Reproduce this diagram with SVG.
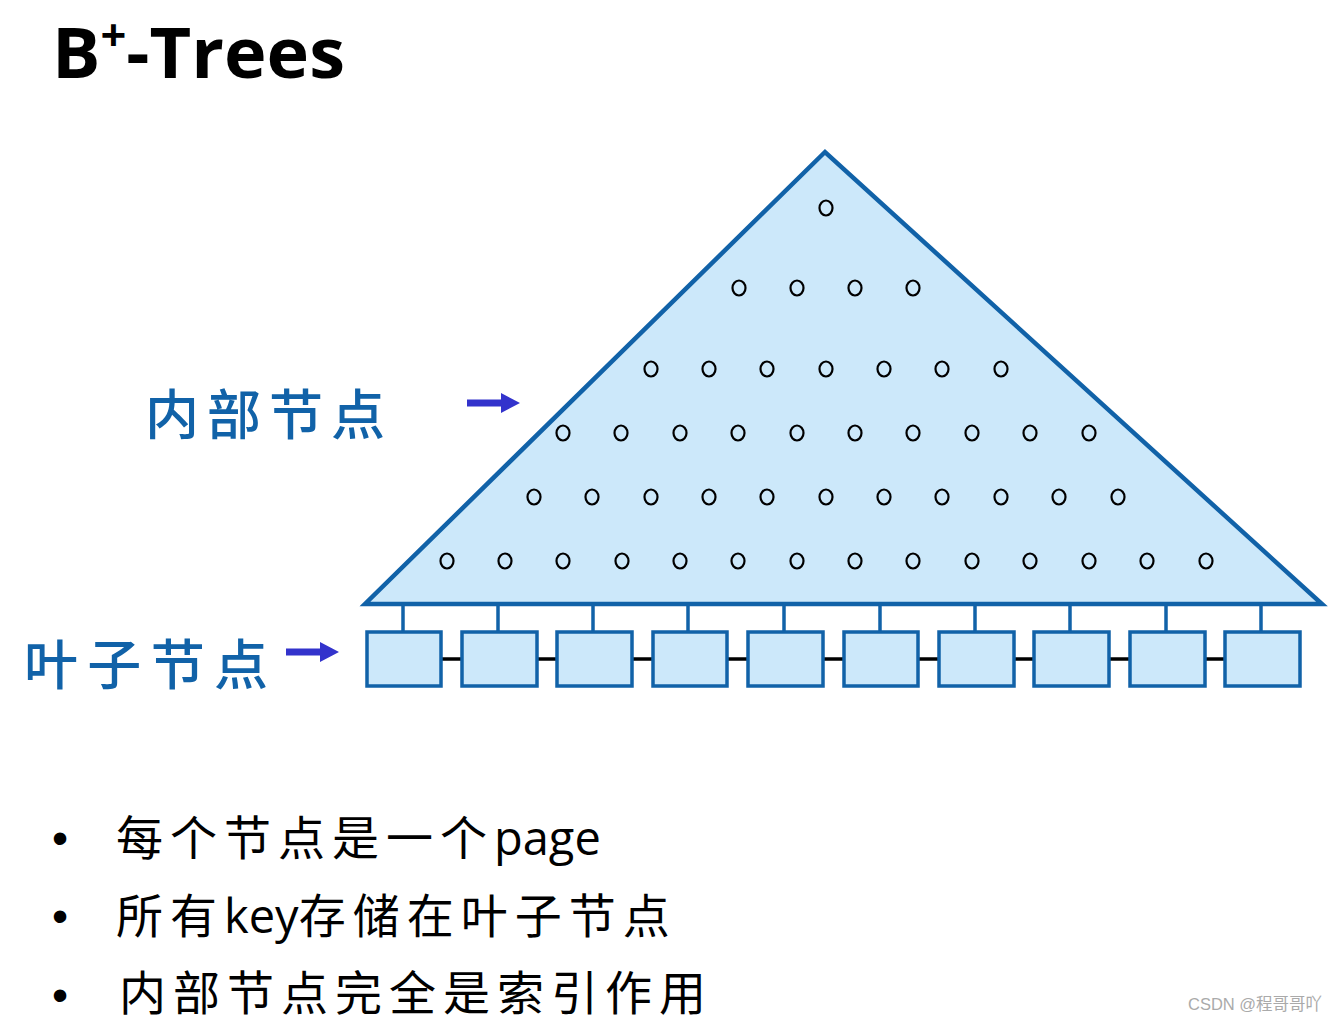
<svg xmlns="http://www.w3.org/2000/svg" width="1340" height="1023" viewBox="0 0 1340 1023">
<defs>
<style>
.cjk{font-family:"Noto Sans CJK SC","Noto Sans",sans-serif;}
.lat{font-family:"Open Sans","Liberation Sans",sans-serif;letter-spacing:0;}
.lbl{fill:#1162a8;font-size:54px;font-weight:500;}
.bul{fill:#000;font-size:47px;letter-spacing:7px;}
.dot{font-family:"Liberation Sans",sans-serif;font-size:46px;fill:#000;}
.k{fill:none;stroke:#000;stroke-width:2.2;}
.leaf{fill:#cce8fa;stroke:#1162a8;stroke-width:3.5;}
.up{stroke:#1162a8;stroke-width:3.5;}
.link{stroke:#000;stroke-width:3.5;}
.arr{fill:#3333cc;}
</style>
</defs>
<rect width="1340" height="1023" fill="#fff"/>
<text x="52" y="78" font-family="'Open Sans','Liberation Sans',sans-serif" font-weight="bold" font-size="70" textLength="293" lengthAdjust="spacingAndGlyphs">B<tspan dy="-27" font-size="44">+</tspan><tspan dy="27">-Trees</tspan></text>

<g id="tree">
<polygon points="825,152 365,604 1322,604" fill="#cce8fa" stroke="#1162a8" stroke-width="4.5" stroke-linejoin="miter"/>
<g class="k">
<ellipse cx="826" cy="208" rx="6.5" ry="7.5"/>
<ellipse cx="739" cy="288" rx="6.5" ry="7.5"/><ellipse cx="797" cy="288" rx="6.5" ry="7.5"/><ellipse cx="855" cy="288" rx="6.5" ry="7.5"/><ellipse cx="913" cy="288" rx="6.5" ry="7.5"/>
<ellipse cx="651" cy="369" rx="6.5" ry="7.5"/><ellipse cx="709" cy="369" rx="6.5" ry="7.5"/><ellipse cx="767" cy="369" rx="6.5" ry="7.5"/><ellipse cx="826" cy="369" rx="6.5" ry="7.5"/><ellipse cx="884" cy="369" rx="6.5" ry="7.5"/><ellipse cx="942" cy="369" rx="6.5" ry="7.5"/><ellipse cx="1001" cy="369" rx="6.5" ry="7.5"/>
<ellipse cx="563" cy="433" rx="6.5" ry="7.5"/><ellipse cx="621" cy="433" rx="6.5" ry="7.5"/><ellipse cx="680" cy="433" rx="6.5" ry="7.5"/><ellipse cx="738" cy="433" rx="6.5" ry="7.5"/><ellipse cx="797" cy="433" rx="6.5" ry="7.5"/><ellipse cx="855" cy="433" rx="6.5" ry="7.5"/><ellipse cx="913" cy="433" rx="6.5" ry="7.5"/><ellipse cx="972" cy="433" rx="6.5" ry="7.5"/><ellipse cx="1030" cy="433" rx="6.5" ry="7.5"/><ellipse cx="1089" cy="433" rx="6.5" ry="7.5"/>
<ellipse cx="534" cy="497" rx="6.5" ry="7.5"/><ellipse cx="592" cy="497" rx="6.5" ry="7.5"/><ellipse cx="651" cy="497" rx="6.5" ry="7.5"/><ellipse cx="709" cy="497" rx="6.5" ry="7.5"/><ellipse cx="767" cy="497" rx="6.5" ry="7.5"/><ellipse cx="826" cy="497" rx="6.5" ry="7.5"/><ellipse cx="884" cy="497" rx="6.5" ry="7.5"/><ellipse cx="942" cy="497" rx="6.5" ry="7.5"/><ellipse cx="1001" cy="497" rx="6.5" ry="7.5"/><ellipse cx="1059" cy="497" rx="6.5" ry="7.5"/><ellipse cx="1118" cy="497" rx="6.5" ry="7.5"/>
<ellipse cx="447" cy="561" rx="6.5" ry="7.5"/><ellipse cx="505" cy="561" rx="6.5" ry="7.5"/><ellipse cx="563" cy="561" rx="6.5" ry="7.5"/><ellipse cx="622" cy="561" rx="6.5" ry="7.5"/><ellipse cx="680" cy="561" rx="6.5" ry="7.5"/><ellipse cx="738" cy="561" rx="6.5" ry="7.5"/><ellipse cx="797" cy="561" rx="6.5" ry="7.5"/><ellipse cx="855" cy="561" rx="6.5" ry="7.5"/><ellipse cx="913" cy="561" rx="6.5" ry="7.5"/><ellipse cx="972" cy="561" rx="6.5" ry="7.5"/><ellipse cx="1030" cy="561" rx="6.5" ry="7.5"/><ellipse cx="1089" cy="561" rx="6.5" ry="7.5"/><ellipse cx="1147" cy="561" rx="6.5" ry="7.5"/><ellipse cx="1206" cy="561" rx="6.5" ry="7.5"/>
</g>
</g>

<g id="connectors">
<line class="up" x1="403" y1="604" x2="403" y2="632"/>
<line class="up" x1="498" y1="604" x2="498" y2="632"/>
<line class="up" x1="593" y1="604" x2="593" y2="632"/>
<line class="up" x1="688" y1="604" x2="688" y2="632"/>
<line class="up" x1="784" y1="604" x2="784" y2="632"/>
<line class="up" x1="880" y1="604" x2="880" y2="632"/>
<line class="up" x1="975" y1="604" x2="975" y2="632"/>
<line class="up" x1="1070" y1="604" x2="1070" y2="632"/>
<line class="up" x1="1166" y1="604" x2="1166" y2="632"/>
<line class="up" x1="1261" y1="604" x2="1261" y2="632"/>
<line class="link" x1="441" y1="659" x2="462" y2="659"/>
<line class="link" x1="537" y1="659" x2="557" y2="659"/>
<line class="link" x1="632" y1="659" x2="653" y2="659"/>
<line class="link" x1="727" y1="659" x2="748" y2="659"/>
<line class="link" x1="823" y1="659" x2="844" y2="659"/>
<line class="link" x1="918" y1="659" x2="939" y2="659"/>
<line class="link" x1="1014" y1="659" x2="1034" y2="659"/>
<line class="link" x1="1109" y1="659" x2="1130" y2="659"/>
<line class="link" x1="1205" y1="659" x2="1225" y2="659"/>
<path class="arr" d="M467,399.5 H501 V393 L520,403 L501,413 V406.5 H467 Z"/>
<path class="arr" d="M286,648.5 H320 V642 L339,652 L320,662 V655.5 H286 Z"/>
</g>

<g id="leaves">
<rect class="leaf" x="367" y="632" width="74" height="54"/>
<rect class="leaf" x="462" y="632" width="75" height="54"/>
<rect class="leaf" x="557" y="632" width="75" height="54"/>
<rect class="leaf" x="653" y="632" width="74" height="54"/>
<rect class="leaf" x="748" y="632" width="75" height="54"/>
<rect class="leaf" x="844" y="632" width="74" height="54"/>
<rect class="leaf" x="939" y="632" width="75" height="54"/>
<rect class="leaf" x="1034" y="632" width="75" height="54"/>
<rect class="leaf" x="1130" y="632" width="75" height="54"/>
<rect class="leaf" x="1225" y="632" width="75" height="54"/>
</g>

<g id="label-internal"><text class="cjk lbl" x="145" y="435" textLength="240" lengthAdjust="spacing">内部节点</text></g>
<g id="label-leaf"><text class="cjk lbl" x="24" y="685" textLength="244" lengthAdjust="spacing">叶子节点</text></g>

<g id="bullets">
<text class="dot" x="52" y="854">•</text>
<text class="dot" x="52" y="932">•</text>
<text class="dot" x="52" y="1011">•</text>
<text class="cjk bul" x="116" y="855">每个节点是一个<tspan class="lat">page</tspan></text>
<text class="cjk bul" x="116" y="933">所有<tspan class="lat">key</tspan>存储在叶子节点</text>
<text class="cjk bul" x="119" y="1010">内部节点完全是索引作用</text>
</g>

<text x="1188" y="1010" font-family="'Liberation Sans','Noto Sans CJK SC',sans-serif" font-size="16.5" fill="#aaa">CSDN @程哥哥吖</text>
</svg>
